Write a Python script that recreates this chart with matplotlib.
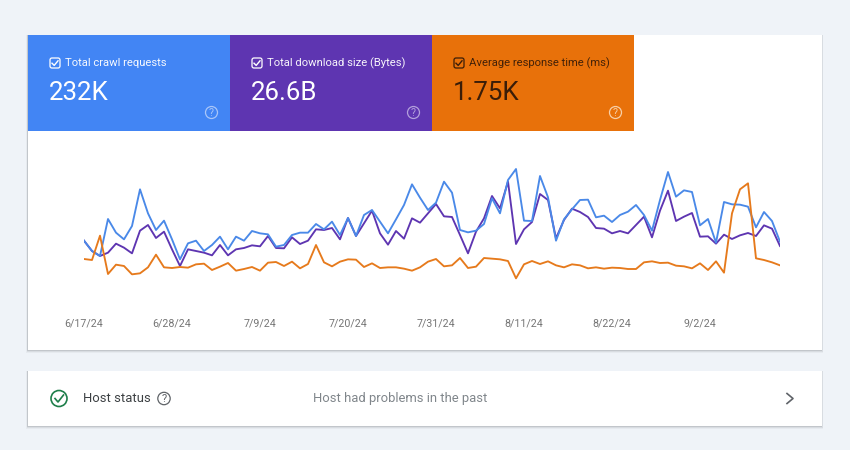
from datetime import date, timedelta
import matplotlib
matplotlib.use("Agg")
from matplotlib import pyplot as plt
from matplotlib.patches import Circle, FancyBboxPatch, Rectangle

plt.rcParams["font.family"] = ["Roboto", "DejaVu Sans"]

BG = "#eff3f8"
BLUE = "#4285f4"
PURPLE = "#5e35b1"
ORANGE = "#e8710a"

# relative height in the chart, each metric has its own hidden scale in the report
crawl_requests = [
    208, 177, 162, 273, 232, 212, 252, 362, 290, 240, 268, 212, 152, 200, 208,
    177, 195, 220, 182, 220, 208, 237, 230, 227, 190, 195, 225, 232, 232, 258,
    242, 265, 225, 276, 222, 285, 300, 265, 230, 272, 315, 377, 337, 300, 322,
    385, 352, 240, 233, 238, 258, 335, 290, 390, 423, 268, 267, 402, 338, 208,
    272, 302, 330, 331, 278, 283, 264, 285, 295, 315, 285, 238, 330, 414, 340,
    359, 354, 254, 273, 202, 324, 317, 316, 310, 248, 294, 267, 205,
]
download_size = [
    208, 177, 162, 172, 199, 187, 170, 238, 255, 216, 235, 182, 132, 182, 177,
    172, 164, 195, 164, 182, 186, 194, 191, 222, 186, 185, 218, 198, 208, 242,
    240, 246, 212, 276, 222, 260, 298, 230, 196, 237, 214, 275, 262, 290, 318,
    281, 279, 225, 170, 235, 275, 342, 305, 385, 198, 242, 264, 348, 330, 215,
    270, 304, 294, 279, 246, 244, 230, 237, 230, 255, 280, 218, 298, 358, 267,
    280, 291, 220, 221, 199, 226, 213, 224, 231, 222, 254, 244, 192,
]
response_time = [
    153, 150, 223, 108, 136, 132, 107, 110, 128, 166, 128, 126, 129, 127, 137,
    139, 120, 130, 141, 118, 123, 129, 118, 142, 144, 132, 145, 125, 138, 195,
    143, 131, 145, 152, 151, 129, 140, 126, 128, 128, 124, 118, 128, 145, 153,
    131, 134, 156, 126, 130, 156, 154, 152, 147, 95, 137, 147, 138, 146, 134,
    128, 137, 134, 125, 128, 124, 127, 126, 123, 123, 143, 146, 141, 142, 133,
    131, 125, 140, 120, 146, 112, 290, 362, 380, 155, 150, 143, 134,
]
days = [date(2024, 6, 17) + timedelta(days=i) for i in range(len(crawl_requests))]
tick_days = [date(2024, 6, 17) + timedelta(days=11 * i) for i in range(8)]
tick_labels = ["6/17/24", "6/28/24", "7/9/24", "7/20/24", "7/31/24", "8/11/24", "8/22/24", "9/2/24"]

tile_titles = ["Total crawl requests", "Total download size (Bytes)", "Average response time (ms)"]
tile_values = ["232K", "26.6B", "1.75K"]
tile_colors = [BLUE, PURPLE, ORANGE]
tile_text = ["white", "white", "#3a1d08"]
tile_help = ["#a9c6f9", "#b3a0dc", "#f7cfa8"]


def draw_card(ax, x0, y0, x1, y1):
    for grow, alpha in [(3, 0.06), (2, 0.1), (1, 0.18)]:
        ax.add_patch(Rectangle((x0 - grow / 2, y0), x1 - x0 + grow, y1 - y0 + grow,
                               fc="#5f6368", ec="none", alpha=alpha))
    ax.add_patch(Rectangle((x0, y0), x1 - x0, y1 - y0, fc="white", ec="none"))


def draw_help(ax, x, y, color, r=6.0, size=7.5):
    ax.add_patch(Circle((x, y), r, fc="none", ec=color, lw=0.9))
    ax.text(x, y, "?", color=color, fontsize=size, ha="center", va="center")


def draw_checkbox(ax, x, y, color):
    ax.add_patch(FancyBboxPatch((x - 4, y - 4), 8, 8, boxstyle="round,pad=1,rounding_size=2",
                                fc="none", ec=color, lw=0.9))
    ax.plot([x - 3, x - 0.8, x + 3], [y + 0.2, y + 2.4, y - 2.2], color=color, lw=1)


fig = plt.figure(figsize=(8.5, 4.5), dpi=100, facecolor=BG)

# whole figure in pixels for the cards and tiles
page = fig.add_axes([0, 0, 1, 1])
page.set_xlim(0, 850)
page.set_ylim(450, 0)
page.axis("off")

draw_card(page, 28, 35, 822, 350)
draw_card(page, 28, 371, 822, 426)

for i, (title, value, color, txt, hlp) in enumerate(
        zip(tile_titles, tile_values, tile_colors, tile_text, tile_help)):
    x = 28 + 202 * i
    page.add_patch(Rectangle((x, 35), 202, 96, fc=color, ec="none"))
    draw_checkbox(page, x + 27, 63, txt)
    page.text(x + 37, 62.8, title, color=txt, fontsize=8.1, va="center", alpha=0.95)
    page.text(x + 21, 93, value, color=txt, fontsize=18.6, va="center")
    draw_help(page, x + 183.5, 112.5, hlp)

# host status row
page.add_patch(Circle((59, 398.5), 8, fc="none", ec="#1e7e4a", lw=1.2))
page.plot([55, 58, 63.5], [398.5, 402, 395], color="#1e7e4a", lw=1.2)
page.text(83, 398.5, "Host status", color="#3c4043", fontsize=9.4, va="center")
draw_help(page, 164, 398.5, "#5f6368", r=6.2, size=8)
page.text(313, 398.5, "Host had problems in the past", color="#80868b", fontsize=9.4, va="center")
page.plot([787, 793, 787], [393.5, 398.5, 403.5], color="#5f6368", lw=1.2)

# chart, spans 84..780 px across and 150..310 px down
ax = fig.add_axes([84 / 850, (450 - 310) / 450, 696 / 850, 160 / 450])
ax.patch.set_alpha(0)
ax.plot(days, download_size, color=PURPLE, lw=1.35)
ax.plot(days, crawl_requests, color="#4a89e8", lw=1.35)
ax.plot(days, response_time, color="#e67a1c", lw=1.35)
ax.set_xlim(days[0], days[-1])
ax.set_ylim(0, 480)
ax.set_xticks(tick_days)
ax.set_xticklabels(tick_labels, color="#757575", fontsize=7.7)
ax.tick_params(axis="x", length=0, pad=6)
ax.set_yticks([])
for spine in ax.spines.values():
    spine.set_visible(False)

fig.savefig("out.png", dpi=100, facecolor=BG)
